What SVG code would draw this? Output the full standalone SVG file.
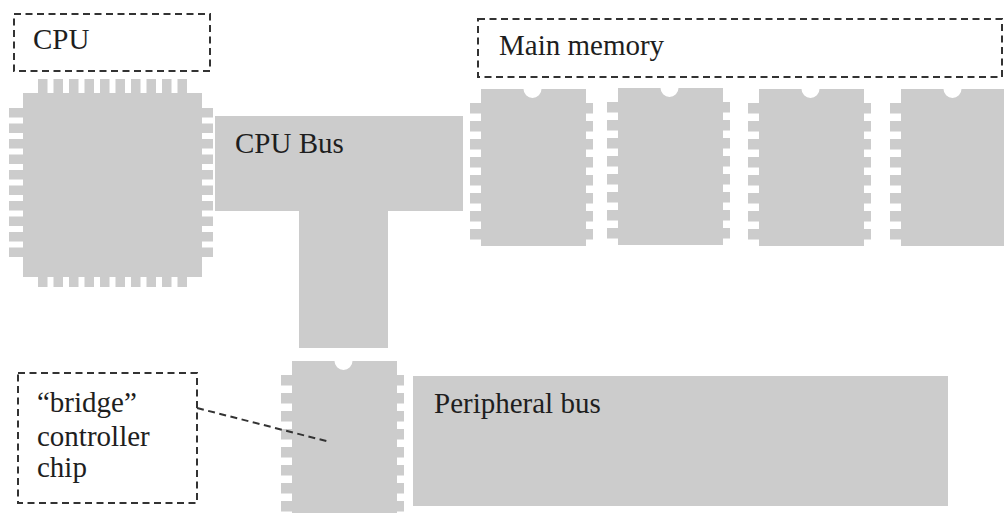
<svg xmlns="http://www.w3.org/2000/svg" xmlns:xlink="http://www.w3.org/1999/xlink" width="1004" height="513" viewBox="0 0 1004 513">
  <style>
    .chip { fill: #cccccc; }
    .bus { fill: #cccccc; }
    .label { font-family: "Liberation Serif", "DejaVu Serif", serif; font-size: 29px; fill: #1e1e1e; }
    .callout { fill: none; stroke: #333333; stroke-width: 2; stroke-dasharray: 7 4.5; }
  </style>
  <defs>
    <g id="dip" class="chip">
      <path d="M0 0 H42.5 A9 9 0 0 0 60.5 0 H105 V157 H0 Z"/>
      <rect x="-11" y="14" width="11" height="10.5"/>
      <rect x="-11" y="32" width="11" height="10.5"/>
      <rect x="-11" y="50" width="11" height="10.5"/>
      <rect x="-11" y="68" width="11" height="10.5"/>
      <rect x="-11" y="86" width="11" height="10.5"/>
      <rect x="-11" y="104" width="11" height="10.5"/>
      <rect x="-11" y="122" width="11" height="10.5"/>
      <rect x="-11" y="140" width="11" height="10.5"/>
      <rect x="105" y="14" width="7" height="10.5"/>
      <rect x="105" y="32" width="7" height="10.5"/>
      <rect x="105" y="50" width="7" height="10.5"/>
      <rect x="105" y="68" width="7" height="10.5"/>
      <rect x="105" y="86" width="7" height="10.5"/>
      <rect x="105" y="104" width="7" height="10.5"/>
      <rect x="105" y="122" width="7" height="10.5"/>
      <rect x="105" y="140" width="7" height="10.5"/>
    </g>
    <g id="cpupinH">
      <rect x="0" y="0" width="9.5" height="14"/>
      <rect x="15.5" y="0" width="9.5" height="14"/>
      <rect x="31" y="0" width="9.5" height="14"/>
      <rect x="46.5" y="0" width="9.5" height="14"/>
      <rect x="62" y="0" width="9.5" height="14"/>
      <rect x="77.5" y="0" width="9.5" height="14"/>
      <rect x="93" y="0" width="9.5" height="14"/>
      <rect x="108.5" y="0" width="9.5" height="14"/>
      <rect x="124" y="0" width="9.5" height="14"/>
      <rect x="139.5" y="0" width="9.5" height="14"/>
    </g>
    <g id="cpupinV">
      <rect x="0" y="0" width="14" height="9.5"/>
      <rect x="0" y="15.5" width="14" height="9.5"/>
      <rect x="0" y="31" width="14" height="9.5"/>
      <rect x="0" y="46.5" width="14" height="9.5"/>
      <rect x="0" y="62" width="14" height="9.5"/>
      <rect x="0" y="77.5" width="14" height="9.5"/>
      <rect x="0" y="93" width="14" height="9.5"/>
      <rect x="0" y="108.5" width="14" height="9.5"/>
      <rect x="0" y="124" width="14" height="9.5"/>
      <rect x="0" y="139.5" width="14" height="9.5"/>
    </g>
  </defs>

  <g id="cpu-chip" class="chip">
    <rect x="23" y="93" width="179" height="184"/>
    <use xlink:href="#cpupinH" x="38" y="79"/>
    <use xlink:href="#cpupinH" x="38" y="273" transform="translate(0,0)"/>
    <use xlink:href="#cpupinV" x="9" y="108"/>
    <use xlink:href="#cpupinV" x="199" y="108"/>
  </g>

  <g id="cpu-label">
    <rect class="callout" x="14" y="14" width="196" height="57"/>
    <text class="label" x="33" y="49">CPU</text>
  </g>

  <g id="cpu-bus">
    <path class="bus" d="M215 116 H463 V211 H388 V348 H299 V211 H215 Z"/>
    <text class="label" x="235" y="153">CPU Bus</text>
  </g>

  <g id="main-memory-label">
    <rect class="callout" x="478" y="19" width="524" height="58"/>
    <text class="label" x="499" y="55">Main memory</text>
  </g>

  <g id="memory-chip-1"><use xlink:href="#dip" x="481" y="89"/></g>
  <g id="memory-chip-2"><use xlink:href="#dip" x="618" y="88"/></g>
  <g id="memory-chip-3"><use xlink:href="#dip" x="759" y="89"/></g>
  <g id="memory-chip-4"><use xlink:href="#dip" x="901" y="89"/></g>

  <g id="bridge-chip"><use xlink:href="#dip" x="292" y="361"/></g>

  <g id="peripheral-bus">
    <rect class="bus" x="413" y="376" width="535" height="130"/>
    <text class="label" x="434" y="413">Peripheral bus</text>
  </g>

  <g id="bridge-label">
    <rect class="callout" x="18" y="373" width="179" height="130"/>
    <text class="label" x="37" y="412">“bridge”</text>
    <text class="label" x="37" y="446">controller</text>
    <text class="label" x="37" y="477">chip</text>
  </g>

  <g id="connectors">
    <line class="callout" x1="197" y1="408" x2="330" y2="442"/>
  </g>
</svg>
